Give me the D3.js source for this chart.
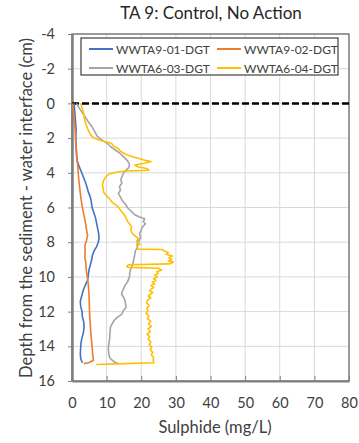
<!DOCTYPE html>
<html>
<head>
<meta charset="utf-8">
<script src="https://cdn.jsdelivr.net/npm/d3@7/dist/d3.min.js"></script>
<style>
  body { margin: 0; background: #fff; }
  svg text { font-family: Lato, "Noto Sans", sans-serif; }
</style>
</head>
<body>
<svg id="chart" width="359" height="443"></svg>
<script>
// series names
const seriesNames = ["WWTA9-01-DGT", "WWTA9-02-DGT", "WWTA6-03-DGT", "WWTA6-04-DGT"];
const seriesColors = ["#4472C4", "#ED7D31", "#A5A5A5", "#FFC000"];

// tick labels
const xTicks = [0, 10, 20, 30, 40, 50, 60, 70, 80];
const yTicks = [-4, -2, 0, 2, 4, 6, 8, 10, 12, 14, 16];

// [depth (cm), sulphide (mg/L)]
const wwta9_01 = [
  [0, 0.6], [0.5, 0.8], [1, 1.0], [1.5, 1.2], [2, 1.1], [2.5, 1.2], [3, 1.3], [3.3, 1.5],
  [3.6, 2.0], [3.9, 2.6], [4.2, 3.2], [4.5, 3.8], [4.8, 4.3], [5.1, 4.7], [5.4, 5.3],
  [5.7, 5.6], [6.0, 5.8], [6.3, 6.3], [6.6, 6.8], [6.9, 7.1], [7.2, 7.4], [7.5, 7.7],
  [7.8, 7.8], [8.0, 7.6], [8.25, 7.1], [8.5, 6.4], [8.75, 5.9], [9.0, 5.7], [9.3, 5.3],
  [9.6, 4.9], [9.9, 4.7], [10.2, 4.5], [10.5, 3.8], [10.8, 3.2], [11.1, 2.8], [11.4, 2.4],
  [11.7, 2.5], [12.0, 2.9], [12.3, 3.0], [12.6, 3.4], [12.9, 3.5], [13.2, 3.3], [13.5, 2.9],
  [13.8, 2.6], [14.1, 2.5], [14.4, 2.4], [14.7, 2.5], [14.95, 3.0]
];
const wwta9_02 = [
  [0, 0.2], [0.5, 0.4], [1, 0.7], [1.5, 0.9], [2, 1.0], [2.5, 1.2], [3, 1.4], [3.5, 1.6],
  [4, 1.8], [4.5, 2.0], [5, 2.3], [5.5, 2.6], [6, 3.0], [6.5, 3.5], [7, 4.0], [7.3, 4.2],
  [7.6, 4.5], [7.9, 4.2], [8.2, 3.7], [8.5, 3.8], [8.85, 3.7], [9.2, 4.0], [9.6, 4.1],
  [10, 4.4], [10.4, 4.7], [11, 4.9], [11.6, 5.0], [12.2, 5.1], [12.8, 5.3], [13.4, 5.5],
  [14.0, 5.8], [14.5, 6.0], [14.8, 6.2], [14.95, 4.8], [15.0, 3.4]
];
const wwta6_03 = [
  [0, 1.3], [0.3, 2.2], [0.6, 3.2], [1.0, 4.5], [1.3, 5.6], [1.6, 6.5], [1.9, 7.3],
  [2.1, 8.6], [2.3, 10.2], [2.5, 11.2], [2.7, 12.6], [2.9, 14.0], [3.1, 15.0], [3.3, 16.0],
  [3.5, 16.6], [3.7, 16.4], [3.85, 15.6], [4.0, 14.9], [4.2, 14.5], [4.4, 14.1], [4.6, 14.4],
  [4.8, 13.7], [5.0, 14.0], [5.2, 13.4], [5.4, 14.0], [5.6, 14.5], [5.8, 15.4], [6.0, 16.0],
  [6.2, 17.0], [6.4, 18.0], [6.55, 19.5], [6.65, 21.0], [6.8, 20.6], [6.95, 21.2],
  [7.1, 20.4], [7.3, 20.0], [7.5, 19.5], [7.7, 19.8], [7.9, 19.4], [8.1, 18.8], [8.3, 18.9],
  [8.5, 18.3], [8.75, 18.1], [9.0, 17.8], [9.25, 17.6], [9.5, 17.0], [9.75, 16.7],
  [10.0, 16.6], [10.3, 16.0], [10.5, 15.3], [10.8, 14.6], [11.0, 14.3], [11.2, 15.0],
  [11.45, 15.4], [11.75, 15.6], [11.95, 14.8], [12.15, 14.4], [12.35, 13.0], [12.5, 12.2],
  [12.7, 11.6], [12.9, 11.1], [13.2, 11.0], [13.5, 10.9], [13.8, 10.7], [14.1, 10.5],
  [14.4, 10.6], [14.7, 11.0], [14.9, 12.2], [15.0, 13.5]
];
const wwta6_04 = [
  [0, 2.5], [0.3, 3.0], [0.6, 3.4], [0.9, 3.6], [1.2, 4.0], [1.5, 4.6], [1.8, 5.3],
  [2.0, 6.3], [2.15, 8.5], [2.3, 11.4], [2.45, 12.0], [2.6, 13.3], [2.75, 14.0], [2.9, 15.2],
  [3.0, 16.5], [3.1, 18.0], [3.2, 19.8], [3.3, 21.5], [3.35, 22.8], [3.45, 21.0],
  [3.55, 18.2], [3.65, 19.0], [3.75, 21.5], [3.85, 22.2], [3.9, 16.0], [3.95, 13.0],
  [4.05, 11.0], [4.15, 10.2], [4.3, 9.5], [4.5, 9.0], [4.7, 8.8], [4.9, 9.0], [5.1, 9.1],
  [5.3, 9.9], [5.5, 10.8], [5.7, 11.6], [5.95, 13.3], [6.15, 14.0], [6.35, 14.8],
  [6.55, 15.5], [6.7, 15.8], [6.9, 16.4], [7.1, 17.2], [7.3, 17.0], [7.5, 17.4],
  [7.65, 18.3], [7.8, 19.2], [7.95, 18.6], [8.1, 19.6], [8.25, 18.8], [8.4, 19.1],
  [8.42, 26.0], [8.5, 26.6], [8.6, 27.8], [8.7, 27.2], [8.8, 29.0], [8.9, 28.0], [9.0, 28.8],
  [9.08, 27.8], [9.15, 29.3], [9.25, 28.0], [9.3, 16.3], [9.4, 15.8], [9.45, 16.4],
  [9.5, 25.0], [9.6, 25.9], [9.7, 24.5], [9.8, 24.9], [9.9, 23.9], [10.0, 24.6], [10.1, 23.5],
  [10.2, 24.3], [10.3, 23.2], [10.4, 23.9], [10.5, 22.8], [10.6, 23.6], [10.7, 22.9],
  [10.8, 22.4], [10.9, 23.3], [11.0, 22.6], [11.1, 22.0], [11.2, 22.8], [11.35, 21.8],
  [11.5, 21.5], [11.65, 22.3], [11.8, 21.6], [11.95, 21.9], [12.1, 21.4], [12.25, 22.2],
  [12.4, 21.8], [12.55, 22.7], [12.7, 22.1], [12.85, 22.9], [13.0, 22.0], [13.15, 22.6],
  [13.3, 21.7], [13.45, 22.4], [13.6, 22.0], [13.75, 22.8], [13.9, 22.3], [14.05, 23.0],
  [14.2, 22.6], [14.35, 23.3], [14.5, 22.9], [14.65, 23.6], [14.8, 23.4], [14.95, 23.7],
  [15.0, 15.0], [15.05, 7.0]
];
const allSeries = [wwta9_01, wwta9_02, wwta6_03, wwta6_04];

const svg = d3.select("#chart");
const margin = { top: 34, right: 10, bottom: 62, left: 72 };
const width = 359, height = 443;

let x = d3.scaleLinear().domain([0, 80]).range([margin.left, width - margin.right]);
let y = d3.scaleLinear().domain([-4, 16]).range([margin.top, height - margin.bottom]);

// gridlines
svg.append("g")
    .selectAll("line")
    .data(xTicks.slice(1, -1))
    .join("line")
    .attr("x1", d => x(d)).attr("x2", d => x(d))
    .attr("y1", y(-4)).attr("y2", y(16))
    .attr("stroke", "#d9d9d9").attr("stroke-width", 1);

svg.append("g")
    .selectAll("line")
    .data(yTicks.slice(1, -1))
    .join("line")
    .attr("x1", x(0)).attr("x2", x(80))
    .attr("y1", d => y(d)).attr("y2", d => y(d))
    .attr("stroke", "#d9d9d9").attr("stroke-width", 1);

// plot border
svg.append("rect")
    .attr("x", x(0)).attr("y", y(-4))
    .attr("width", x(80) - x(0)).attr("height", y(16) - y(-4))
    .attr("fill", "none").attr("stroke", "#595959").attr("stroke-width", 1.2);

// x axis (ticks inside)
let xAxis = g => g
    .attr("transform", `translate(0,${y(16)})`)
    .call(d3.axisBottom(x).tickValues(xTicks).tickFormat(d => String(d))
        .tickSizeInner(-5).tickSizeOuter(0).tickPadding(17))
    .call(g => g.select(".domain").attr("stroke", "#7f7f7f").attr("stroke-width", 2))
    .call(g => g.selectAll(".tick line").attr("stroke", "#7f7f7f"))
    .call(g => g.selectAll("text").attr("fill", "#404040").style("font-size", "14.5px"));

// y axis (ticks outside), Excel-style hyphen minus
let yAxis = g => g
    .attr("transform", `translate(${x(0)},0)`)
    .call(d3.axisLeft(y).tickValues(yTicks).tickFormat(d => String(d))
        .tickSizeInner(4).tickSizeOuter(0).tickPadding(13))
    .call(g => g.select(".domain").attr("stroke", "#7f7f7f").attr("stroke-width", 2.5))
    .call(g => g.selectAll(".tick line").attr("stroke", "#7f7f7f"))
    .call(g => g.selectAll("text").attr("fill", "#404040").style("font-size", "14.5px"));

svg.append("g").call(xAxis);
svg.append("g").call(yAxis);

// sediment-water interface
svg.append("line")
    .attr("x1", x(0)).attr("x2", x(80))
    .attr("y1", y(0)).attr("y2", y(0))
    .attr("stroke", "#000").attr("stroke-width", 2.5)
    .attr("stroke-dasharray", "7,3");

// profiles
const line = d3.line().x(d => x(d[1])).y(d => y(d[0]));
svg.append("g")
    .selectAll("path")
    .data(allSeries)
    .join("path")
    .attr("d", line)
    .attr("fill", "none")
    .attr("stroke", (d, i) => seriesColors[i])
    .attr("stroke-width", 1.6)
    .attr("stroke-linejoin", "round");

// legend
const lg = svg.append("g");
lg.append("rect")
    .attr("x", 81).attr("y", 38).attr("width", 257).attr("height", 37)
    .attr("fill", "#fff").attr("stroke", "#404040").attr("stroke-width", 1.2);

const legendItem = lg.selectAll("g")
    .data(seriesNames)
    .join("g")
    .attr("transform", (d, i) => `translate(${i % 2 ? 217 : 89},${i < 2 ? 49 : 68})`);

legendItem.append("line")
    .attr("x1", 0).attr("x2", 24)
    .attr("stroke", (d, i) => seriesColors[i]).attr("stroke-width", 2);

legendItem.append("text")
    .attr("x", 27).attr("y", 4.5)
    .attr("fill", "#404040")
    .style("font-size", "12px")
    .text(d => d);

// title and axis labels
svg.append("text")
    .attr("x", 211).attr("y", 19)
    .attr("text-anchor", "middle")
    .attr("fill", "#262626")
    .style("font-size", "17px")
    .text("TA 9: Control, No Action");

svg.append("text")
    .attr("x", 215).attr("y", 433)
    .attr("text-anchor", "middle")
    .attr("fill", "#404040")
    .style("font-size", "16.5px")
    .text("Sulphide (mg/L)");

svg.append("text")
    .attr("transform", "translate(32,208) rotate(-90)")
    .attr("text-anchor", "middle")
    .attr("fill", "#404040")
    .style("font-size", "16.5px")
    .text("Depth from the sediment - water interface (cm)");
</script>
</body>
</html>
